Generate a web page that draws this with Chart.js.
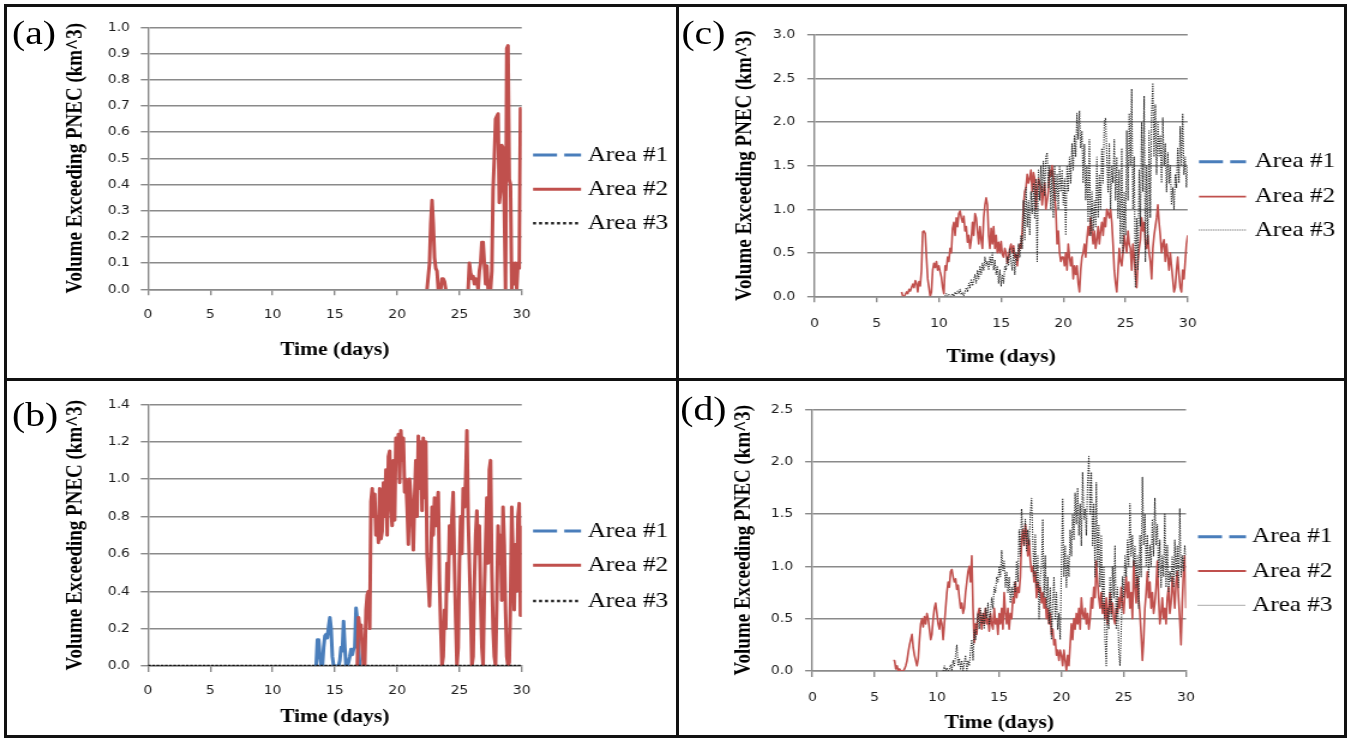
<!DOCTYPE html>
<html>
<head>
<meta charset="utf-8">
<title>Volume Exceeding PNEC</title>
<script src="https://cdn.jsdelivr.net/npm/chart.js@4.4.0/dist/chart.umd.min.js"></script>
<style>
  body { margin: 0; background: #fff; width: 1348px; height: 738px; overflow: hidden; position: relative; }
  /* the source figure is stretched sideways, so each panel is drawn narrow and widened */
  .panel { position: absolute; transform: scaleX(1.2); transform-origin: 0 0; }
  .panel canvas { position: absolute; left: 0; top: 0; }
  .tag { position: absolute; font: 33px "Liberation Serif", serif; line-height: 1; color: #000; }
  .rule { position: absolute; background: #111; }
</style>
</head>
<body>
<div class="panel" style="left:6px;top:6px;width:558px;height:372px">
  <canvas id="chartA" width="558" height="372"></canvas>
  <div class="tag" style="left:5px;top:11px">(a)</div>
</div>
<div class="panel" style="left:679px;top:6px;width:554px;height:372px">
  <canvas id="chartC" width="554" height="372"></canvas>
  <div class="tag" style="left:2px;top:11px">(c)</div>
</div>
<div class="panel" style="left:6px;top:380px;width:558px;height:354px">
  <canvas id="chartB" width="558" height="354"></canvas>
  <div class="tag" style="left:5px;top:19px">(b)</div>
</div>
<div class="panel" style="left:679px;top:380px;width:554px;height:354px">
  <canvas id="chartD" width="554" height="354"></canvas>
  <div class="tag" style="left:1px;top:13px">(d)</div>
</div>

<div class="rule" style="left:4px;top:4px;width:1343px;height:2.5px"></div>
<div class="rule" style="left:4px;top:734.5px;width:1343px;height:3px"></div>
<div class="rule" style="left:4px;top:4px;width:2.5px;height:733px"></div>
<div class="rule" style="left:1343.5px;top:4px;width:3.5px;height:733px"></div>
<div class="rule" style="left:675.5px;top:4px;width:3.5px;height:733px"></div>
<div class="rule" style="left:4px;top:378px;width:1343px;height:3px"></div>

<script>
// sampling interval of the model output (days)
const SAMPLE_STEP = 0.1;

const xTicks = [0, 5, 10, 15, 20, 25, 30];
const yTicksA = [0, 0.1, 0.2, 0.3, 0.4, 0.5, 0.6, 0.7, 0.8, 0.9, 1.0];
const yTicksB = [0, 0.2, 0.4, 0.6, 0.8, 1.0, 1.2, 1.4];
const yTicksC = [0, 0.5, 1.0, 1.5, 2.0, 2.5, 3.0];
const yTicksD = [0, 0.5, 1.0, 1.5, 2.0, 2.5];
const seriesNames = ['Area #1', 'Area #2', 'Area #3'];

// ---- panel (a) ----
const aArea1 = [];
const aArea2Start = 22.0;
const aArea2 = [
  null, null, null, null, 0, 0.05, 0.1, 0.25, 0.34, 0.25,      // 22
  0.12, 0.08, 0.07, 0.0, 0.0, 0.0, 0.04, 0.04, 0.03, 0.0,      // 23
  null, null, null, null, null, null, null, null, null, null,  // 24
  null, null, null, null, null, null, null, 0.0, 0.1, 0.06,    // 25
  0.04, 0.05, 0.02, 0.04, 0.03, 0.0, 0.07, 0.1, 0.18, 0.18,    // 26
  0.1, 0.02, 0.09, 0.0, 0.03, 0.0, 0.07, 0.38, 0.5, 0.65,      // 27
  0.66, 0.67, 0.33, 0.38, 0.55, 0.54, 0.31, 0.0, 0.92, 0.93,   // 28
  0.42, 0.4, 0.0, 0.1, 0.02, 0.1, 0.0, 0.1, 0.08, 0.69,        // 29
  0.69
];
const aArea3 = [];

// ---- panel (b) ----
const bArea1Start = 13.5;
const bArea1 = [
  0, 0.14, 0.14, 0.05, 0.0,                                    // 13.5
  0.0, 0.1, 0.16, 0.17, 0.15, 0.21, 0.26, 0.2, 0.05, 0.0,      // 14
  0.0, 0.0, 0.0, 0.0, 0.03, 0.1, 0.08, 0.24, 0.1, 0.0,         // 15
  0.0, 0.02, 0.05, 0.09, 0.06, 0.09, 0.1, 0.31, 0.25, 0.1,     // 16
  0.0
];
const bArea2Start = 16.8;
const bArea2 = [
  0.0, 0.26,                                                   // 16.8
  0.2, 0.22, 0.1, 0.0, 0.0, 0.3, 0.38, 0.4, 0.2, 0.88,         // 17
  0.95, 0.8, 0.92, 0.7, 0.8, 0.66, 0.95, 0.68, 0.72, 0.98,     // 18
  0.8, 1.05, 0.7, 1.12, 1.15, 0.85, 0.75, 1.1, 0.78, 1.22,     // 19
  1.1, 1.24, 0.98, 1.26, 1.1, 1.22, 0.93, 1.0, 0.85, 0.65,     // 20
  1.0, 0.9, 0.78, 0.62, 0.9, 1.1, 0.8, 1.23, 0.95, 1.2,        // 21
  0.83, 1.22, 0.9, 1.2, 0.6, 0.45, 0.32, 0.55, 0.85, 0.7,      // 22
  0.9, 0.75, 0.85, 0.93, 0.45, 0.2, 0.0, 0.05, 0.3, 0.2,       // 23
  0.55, 0.4, 0.75, 0.6, 0.8, 0.93, 0.55, 0.25, 0.0, 0.1,       // 24
  0.55, 0.8, 0.6, 0.95, 0.85, 1.0, 1.26, 0.8, 0.55, 0.3,       // 25
  0.0, 0.05, 0.45, 0.7, 0.83, 0.6, 0.75, 0.35, 0.1, 0.0,       // 26
  0.4, 0.65, 0.9, 0.55, 1.05, 1.1, 0.5, 0.2, 0.05, 0.0,        // 27
  0.35, 0.75, 0.55, 0.7, 0.35, 0.85, 0.65, 0.3, 0.05, 0.0,     // 28
  0.02, 0.35, 0.85, 0.6, 0.3, 0.65, 0.4, 0.8, 0.87, 0.27,      // 29
  0.75
];
const bArea3Days = [0, 30];
const bArea3 = [0, 0];

// ---- panel (c) ----
const cArea1 = [];
const cArea2Start = 7.0;
const cArea2 = [
  0.05, 0.0, 0.0, 0.02, 0.05, 0.03, 0.08, 0.06, 0.1, 0.14,     // 7
  0.1, 0.18, 0.15, 0.05, 0.17, 0.12, 0.3, 0.74, 0.75, 0.72,    // 8
  0.45, 0.2, 0.1, 0.0, 0.05, 0.3, 0.38, 0.33, 0.4, 0.3,        // 9
  0.35, 0.28, 0.22, 0.1, 0.03, 0.35, 0.3, 0.45, 0.4, 0.55,     // 10
  0.5, 0.78, 0.85, 0.7, 0.9, 0.8, 0.95, 0.98, 0.9, 0.85,       // 11
  0.92, 0.75, 0.8, 0.62, 0.7, 0.55, 0.65, 0.85, 0.7, 0.95,     // 12
  0.9, 0.75, 0.6, 0.8, 0.65, 0.55, 0.9, 1.05, 1.13, 1.05,      // 13
  0.7, 0.55, 0.78, 0.6, 0.8, 0.55, 0.7, 0.5, 0.62, 0.5,        // 14
  0.63, 0.48, 0.45, 0.55, 0.5, 0.38, 0.45, 0.55, 0.6, 0.5,     // 15
  0.58, 0.45, 0.48, 0.35, 0.5, 0.6, 0.55, 0.75, 1.05, 1.2,     // 16
  1.25, 1.4, 1.3, 1.35, 1.45, 1.2, 1.42, 1.35, 1.0, 1.2,       // 17
  1.35, 1.3, 1.25, 1.05, 1.2, 1.3, 1.0, 1.1, 1.2, 1.45,        // 18
  1.38, 1.5, 1.35, 1.15, 1.0, 0.6, 0.75, 0.5, 0.4, 0.45,       // 19
  0.45, 0.35, 0.5, 0.3, 0.6, 0.45, 0.35, 0.45, 0.2, 0.35,      // 20
  0.25, 0.35, 0.15, 0.05, 0.3, 0.45, 0.5, 0.6, 0.45, 0.65,     // 21
  0.8, 0.7, 0.9, 0.75, 0.6, 0.75, 0.55, 0.65, 0.8, 0.6,        // 22
  0.75, 0.85, 0.7, 0.9, 0.8, 1.0, 0.95, 0.9, 1.0, 0.85,        // 23
  0.6, 0.3, 0.15, 0.05, 0.3, 0.55, 0.4, 0.35, 0.5, 0.7,        // 24
  0.6, 0.5, 0.75, 0.6, 0.55, 0.3, 0.6, 0.45, 0.25, 0.1,        // 25
  0.4, 0.55, 0.65, 0.9, 0.75, 0.85, 0.6, 0.55, 0.7, 0.5,       // 26
  0.4, 0.2, 0.55, 0.7, 0.8, 0.9, 1.05, 0.85, 0.7, 0.5,         // 27
  0.6, 0.65, 0.4, 0.6, 0.45, 0.3, 0.5, 0.35, 0.2, 0.05,        // 28
  0.1, 0.3, 0.45, 0.25, 0.1, 0.05, 0.3, 0.2, 0.4, 0.6,         // 29
  0.7
];
const cArea3Start = 10.5;
const cArea3 = [
  0.0, 0.03, 0.0, 0.02, 0.0,                                   // 10.5
  0.0, 0.03, 0.0, 0.05, 0.02, 0.06, 0.03, 0.08, 0.02, 0.04,    // 11
  0.0, 0.06, 0.1, 0.05, 0.15, 0.1, 0.2, 0.12, 0.18, 0.25,      // 12
  0.15, 0.3, 0.2, 0.35, 0.25, 0.38, 0.3, 0.45, 0.35, 0.4,      // 13
  0.3, 0.45, 0.35, 0.5, 0.3, 0.42, 0.25, 0.35, 0.15, 0.3,      // 14
  0.12, 0.25, 0.15, 0.35, 0.3, 0.45, 0.35, 0.55, 0.4, 0.3,     // 15
  0.55, 0.25, 0.5, 0.4, 0.6, 0.45, 0.7, 0.55, 1.1, 0.65,       // 16
  1.25, 0.8, 1.1, 0.7, 1.2, 0.95, 1.3, 0.9, 1.35, 0.4,         // 17
  1.45, 1.1, 1.5, 1.2, 1.55, 1.15, 1.6, 1.65, 1.25, 1.5,       // 18
  1.0, 1.45, 0.9, 1.5, 1.1, 1.4, 1.0, 1.5, 1.2, 1.45,          // 19
  1.05, 1.35, 0.7, 1.5, 1.2, 1.6, 1.3, 1.75, 1.45, 1.85,       // 20
  1.6, 2.1, 1.8, 2.13, 1.7, 1.9, 1.3, 1.75, 1.1, 1.5,          // 21
  0.85, 1.8, 0.7, 1.2, 0.75, 1.1, 0.8, 1.6, 0.9, 1.4,          // 22
  1.0, 1.7, 1.3, 2.0, 2.05, 1.6, 1.2, 1.75, 1.0, 1.5,          // 23
  1.3, 1.8, 1.1, 1.6, 0.9, 1.45, 0.6, 1.7, 0.5, 1.2,           // 24
  0.7, 1.9, 1.1, 2.1, 1.5, 2.38, 1.0, 1.6, 0.1, 0.9,           // 25
  0.3, 1.45, 0.8, 2.0, 1.2, 2.3, 0.4, 1.5, 0.6, 1.9,           // 26
  0.9, 2.1, 2.45, 1.6, 2.2, 1.4, 2.0, 1.6, 1.85, 1.3,          // 27
  2.05, 1.5, 1.75, 1.2, 1.65, 1.3, 1.5, 1.05, 1.25, 1.0,       // 28
  1.4, 1.25, 1.7, 1.3, 1.95, 1.5, 2.1, 1.4, 1.6, 1.25,         // 29
  1.5
];

// ---- panel (d) ----
const dArea1 = [];
const dArea2Start = 6.5;
const dArea2 = [
  0.1, 0.1, 0.02, 0.05, 0.0,                                   // 6.5
  0.02, 0.0, 0.0, 0.0, 0.02, 0.05, 0.1, 0.18, 0.25, 0.3,       // 7
  0.35, 0.22, 0.15, 0.1, 0.05, 0.12, 0.3, 0.45, 0.5, 0.42,     // 8
  0.52, 0.45, 0.55, 0.5, 0.4, 0.3, 0.35, 0.5, 0.6, 0.65,       // 9
  0.55, 0.45, 0.4, 0.5, 0.45, 0.3, 0.45, 0.6, 0.75, 0.85,      // 10
  0.8, 0.95, 0.97, 0.9, 0.85, 0.88, 0.78, 0.82, 0.7, 0.6,      // 11
  0.65, 0.55, 0.6, 0.75, 0.85, 0.95, 1.0, 0.85, 1.1, 0.6,      // 12
  0.27, 0.45, 0.35, 0.55, 0.6, 0.5, 0.4, 0.55, 0.45, 0.6,      // 13
  0.45, 0.5, 0.38, 0.55, 0.45, 0.4, 0.6, 0.45, 0.5, 0.35,      // 14
  0.55, 0.45, 0.6, 0.4, 0.75, 0.55, 0.45, 0.6, 0.4, 0.55,      // 15
  0.5, 0.7, 0.65, 0.85, 0.7, 0.8, 0.75, 0.9, 1.25, 1.35,       // 16
  1.2, 1.4, 1.3, 1.1, 1.25, 1.05, 0.95, 1.0, 0.85, 0.95,       // 17
  0.7, 0.85, 0.75, 0.8, 0.65, 0.75, 0.6, 0.7, 0.5, 0.6,        // 18
  0.45, 0.55, 0.35, 0.4, 0.25, 0.3, 0.15, 0.2, 0.1, 0.2,       // 19
  0.15, 0.05, 0.2, 0.1, 0.0, 0.15, 0.05, 0.25, 0.45, 0.3,      // 20
  0.5, 0.4, 0.55, 0.45, 0.6, 0.4, 0.7, 0.55, 0.5, 0.6,         // 21
  0.45, 0.55, 0.4, 0.5, 0.7, 0.6, 0.8, 0.7, 1.05, 0.85,        // 22
  0.7, 0.6, 0.75, 0.55, 0.65, 0.5, 0.7, 0.45, 0.6, 0.75,       // 23
  0.55, 0.65, 0.5, 0.45, 0.6, 0.55, 0.7, 0.6, 0.8, 0.65,       // 24
  0.55, 0.75, 0.9, 0.7, 0.85, 0.6, 0.75, 0.5, 1.05, 0.8,       // 25
  0.65, 0.9, 0.7, 0.55, 0.35, 0.1, 0.3, 0.6, 0.75, 0.95,       // 26
  0.7, 0.85, 0.6, 0.75, 0.55, 0.65, 0.8, 1.05, 0.7, 0.45,      // 27
  0.55, 0.7, 0.5, 0.6, 0.45, 0.7, 0.8, 0.55, 0.65, 0.9,        // 28
  0.75, 0.6, 0.85, 0.95, 0.7, 0.5, 0.25, 0.65, 0.95, 1.1,      // 29
  0.6
];
const dArea3Start = 10.5;
const dArea3 = [
  0.0, 0.05, 0.0, 0.03, 0.0,                                   // 10.5
  0.02, 0.06, 0.0, 0.1, 0.05, 0.15, 0.25, 0.05, 0.12, 0.02,    // 11
  0.1, 0.0, 0.08, 0.15, 0.0, 0.1, 0.05, 0.2, 0.3, 0.1,         // 12
  0.4, 0.3, 0.45, 0.55, 0.4, 0.6, 0.45, 0.55, 0.4, 0.6,        // 13
  0.5, 0.65, 0.45, 0.55, 0.7, 0.6, 0.8, 0.75, 0.9, 0.85,       // 14
  1.0, 0.9, 1.15, 0.95, 1.05, 0.8, 0.95, 0.75, 0.9, 0.65,      // 15
  0.8, 0.7, 0.85, 0.75, 1.05, 0.85, 1.35, 1.1, 1.55, 1.3,      // 16
  1.2, 1.45, 1.15, 1.35, 1.2, 1.5, 1.65, 1.25, 0.9, 1.3,       // 17
  0.8, 1.1, 0.5, 0.9, 1.0, 1.45, 0.7, 1.1, 0.6, 0.9,           // 18
  0.45, 0.8, 0.3, 0.65, 0.9, 0.5, 0.75, 0.4, 0.55, 0.3,        // 19
  1.0, 1.65, 0.9, 1.2, 0.8, 1.1, 0.9, 1.35, 1.1, 1.5,          // 20
  1.25, 1.7, 1.4, 1.75, 1.3, 1.6, 1.2, 1.9, 1.45, 1.55,        // 21
  1.3, 1.8, 2.05, 1.5, 1.9, 1.2, 1.6, 0.9, 1.8, 1.0,           // 22
  1.4, 0.8, 1.3, 0.6, 1.0, 0.3, 0.05, 0.6, 0.4, 0.9,           // 23
  0.5, 1.0, 0.7, 1.2, 0.4, 0.8, 0.2, 0.05, 0.4, 0.9,           // 24
  0.7, 1.1, 0.9, 1.25, 1.0, 1.6, 1.1, 1.3, 1.0, 1.2,           // 25
  0.8, 1.1, 0.6, 1.3, 0.9, 1.85, 1.2, 1.5, 1.0, 1.3,           // 26
  0.9, 1.2, 1.0, 1.45, 1.1, 1.65, 1.2, 1.4, 0.9, 1.25,         // 27
  0.8, 1.1, 0.9, 1.5, 0.8, 1.2, 0.75, 0.95, 0.85, 1.1,         // 28
  0.8, 1.25, 0.9, 1.2, 0.8, 1.55, 0.9, 1.1, 0.95, 1.2,         // 29
  1.1
];

// ---------------------------------------------------------------
const BLUE = '#4a7ebb';
const RED = '#c0504d';
const GRID = '#8a8a8a';
const TICK_FONT = { family: '"DejaVu Sans Condensed", "DejaVu Sans", sans-serif', size: 13 };
const TICK_COLOR = '#1c1c1c';

function toPoints(start, step, values) {
  return values.map((v, i) => ({ x: Math.round((start + i * step) * 100) / 100, y: v }));
}
function fromDays(days, values) {
  return values.map((v, i) => ({ x: days[i], y: v }));
}

// styles for the three areas; "thick" = panels a/b, "thin" = panels c/d
function areaDatasets(kind, p1, p2, p3) {
  const thick = kind === 'thick';
  return [
    { label: seriesNames[0], data: p1, borderColor: BLUE, borderWidth: 3, order: 2,
      legendWidth: 3, legendDash: [20, 6] },
    { label: seriesNames[1], data: p2, borderColor: RED, borderWidth: thick ? 3 : 1.6, order: 1,
      legendWidth: thick ? 3 : 1.8, legendDash: [] },
    { label: seriesNames[2], data: p3, borderColor: thick ? '#151515' : '#2a2a2a', order: 0,
      borderWidth: thick ? 2.5 : 1.1, borderDash: thick ? [2.5, 1] : [1.2, 1.2],
      legendColor: thick ? '#222' : '#555', legendWidth: thick ? 2.5 : 1, legendDash: thick ? [2.5, 2.5] : [1, 1] }
  ];
}

// legend drawn at fixed spots to the right of the plot
const sideLegend = {
  id: 'sideLegend',
  afterDraw(chart, args, opts) {
    const ctx = chart.ctx;
    ctx.save();
    ctx.font = '21px "Liberation Serif", serif';
    ctx.textBaseline = 'middle';
    chart.data.datasets.forEach((ds, i) => {
      const y = opts.ys[i];
      ctx.beginPath();
      ctx.strokeStyle = ds.legendColor || ds.borderColor;
      ctx.lineWidth = ds.legendWidth;
      ctx.setLineDash(ds.legendDash || []);
      ctx.moveTo(opts.x0, y);
      ctx.lineTo(opts.x1, y);
      ctx.stroke();
      ctx.setLineDash([]);
      ctx.fillStyle = '#000';
      ctx.fillText(ds.label, opts.textX, y);
    });
    ctx.restore();
  }
};

function drawPanel(id, yTicks, datasets, p) {
  new Chart(document.getElementById(id), {
    type: 'line',
    data: { datasets: datasets },
    options: {
      responsive: false,
      animation: false,
      devicePixelRatio: 1,
      events: [],
      layout: { padding: p.pad },
      elements: {
        point: { radius: 0 },
        line: { tension: 0, borderJoinStyle: 'round', borderCapStyle: 'butt' }
      },
      plugins: {
        legend: { display: false },
        tooltip: { enabled: false },
        sideLegend: p.legend
      },
      scales: {
        x: {
          type: 'linear', min: 0, max: 30,
          afterBuildTicks: s => { s.ticks = xTicks.map(v => ({ value: v })); },
          afterFit: s => { s.height = p.xH; },
          grid: { drawOnChartArea: false, drawTicks: true, tickLength: 6, color: GRID, lineWidth: 1.4 },
          border: { color: GRID, width: 1.4 },
          ticks: { padding: p.xPad, font: TICK_FONT, color: TICK_COLOR, maxRotation: 0, autoSkip: false,
                   callback: v => String(v) },
          title: { display: true, text: 'Time (days)', color: '#000', padding: 0,
                   font: { family: '"Liberation Serif", serif', size: 18, weight: 'bold' } }
        },
        y: {
          type: 'linear', min: yTicks[0], max: yTicks[yTicks.length - 1],
          afterBuildTicks: s => { s.ticks = yTicks.map(v => ({ value: v })); },
          afterFit: s => { s.width = p.yW; },
          grid: { color: GRID, lineWidth: 1.4, tickLength: 6 },
          border: { color: GRID, width: 1.4 },
          ticks: { padding: p.yPad, font: TICK_FONT, color: TICK_COLOR, autoSkip: false,
                   callback: v => v.toFixed(1) },
          title: { display: true, text: 'Volume Exceeding PNEC (km^3)', color: '#000', padding: 0,
                   font: { family: '"Liberation Serif", serif', size: 19, weight: 'bold' } }
        }
      }
    },
    plugins: [sideLegend]
  });
}

window.addEventListener('load', () => {
  drawPanel('chartA', yTicksA,
    areaDatasets('thick', [], toPoints(aArea2Start, SAMPLE_STEP, aArea2), []),
    { pad: { left: 46.9, top: 21.3, right: 128.25, bottom: 17.2 }, yW: 71.4, xH: 71.5, xPad: 11.9, yPad: 9,
      legend: { x0: 439.2, x1: 479.2, textX: 484.7, ys: [149, 183.3, 217.3] } });

  drawPanel('chartB', yTicksB,
    areaDatasets('thick', toPoints(bArea1Start, SAMPLE_STEP, bArea1), toPoints(bArea2Start, SAMPLE_STEP, bArea2),
                 fromDays(bArea3Days, bArea3)),
    { pad: { left: 46.9, top: 24.3, right: 128.25, bottom: 5.7 }, yW: 71.4, xH: 62.3, xPad: 11.2, yPad: 9,
      legend: { x0: 439.2, x1: 479.2, textX: 484.7, ys: [151, 185.3, 221] } });

  drawPanel('chartC', yTicksC,
    areaDatasets('thin', [], toPoints(cArea2Start, SAMPLE_STEP, cArea2), toPoints(cArea3Start, SAMPLE_STEP, cArea3)),
    { pad: { left: 44.1, top: 29, right: 130.1, bottom: 10.2 }, yW: 68.8, xH: 71.5, xPad: 13.2, yPad: 10,
      legend: { x0: 433.3, x1: 472.5, textX: 479.7, ys: [155.7, 190.7, 224] } });

  drawPanel('chartD', yTicksD,
    areaDatasets('thin', [], toPoints(dArea2Start, SAMPLE_STEP, dArea2), toPoints(dArea3Start, SAMPLE_STEP, dArea3)),
    { pad: { left: 42.35, top: 29.3, right: 131.5, bottom: 0 }, yW: 68.75, xH: 63, xPad: 12.9, yPad: 10,
      legend: { x0: 432.5, x1: 472.5, textX: 477.5, ys: [156.7, 191, 225.3] } });
});
</script>
</body>
</html>
